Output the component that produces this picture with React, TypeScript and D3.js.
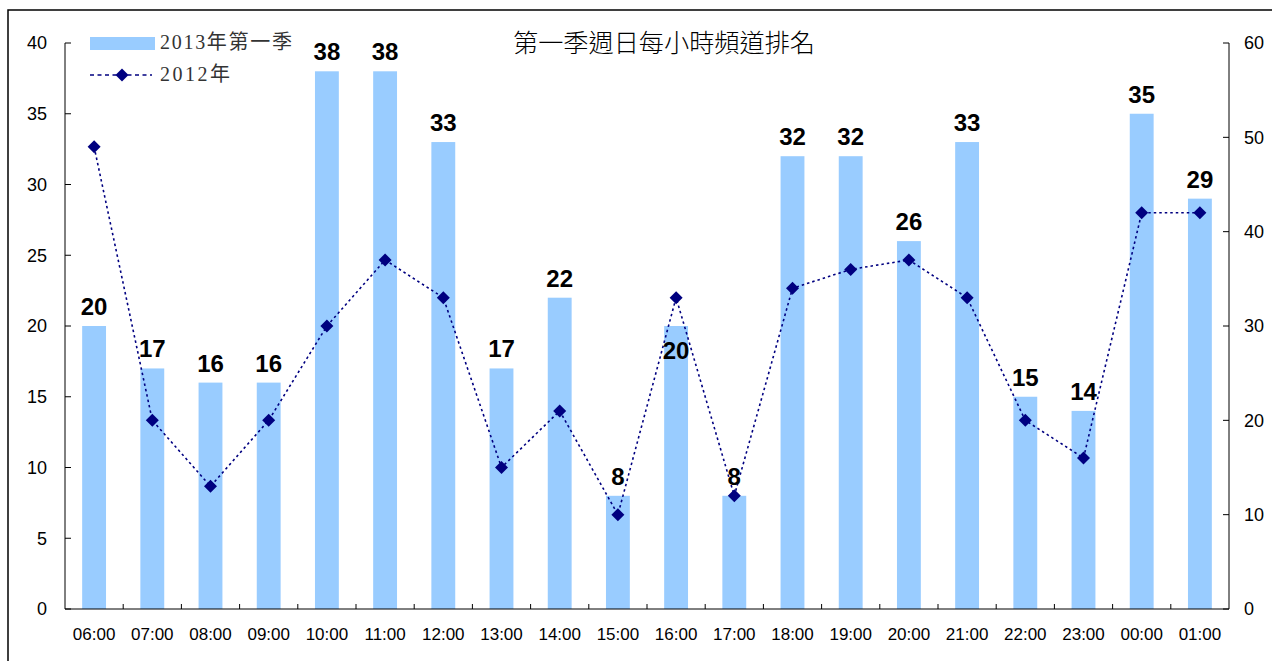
import React, { useEffect } from "react";
import * as d3 from "d3";

const categories = ["06:00","07:00","08:00","09:00","10:00","11:00","12:00","13:00","14:00","15:00","16:00","17:00","18:00","19:00","20:00","21:00","22:00","23:00","00:00","01:00"];
const bars2013 = [20,17,16,16,38,38,33,17,22,8,20,8,32,32,26,33,15,14,35,29];
const line2012 = [49,20,13,20,30,37,33,15,21,10,33,12,34,36,37,33,20,16,42,42];
const leftTicks = [0,5,10,15,20,25,30,35,40];
const rightTicks = [0,10,20,30,40,50,60];
const title = "第一季週日每小時頻道排名";
const seriesNames = ["2013年第一季", "2012年"];

const W = 1272, H = 661;
const plot = { left: 65, right: 1229, top: 43, bottom: 609 };

export default function App() {
  useEffect(() => {
    document.body.style.margin = "0";
    document.body.style.overflow = "hidden";
  }, []);

  const x = d3.scaleBand<string>().domain(categories).range([plot.left, plot.right]).paddingInner(0).paddingOuter(0);
  const yL = d3.scaleLinear().domain([0, 40]).range([plot.bottom, plot.top]);
  const yR = d3.scaleLinear().domain([0, 60]).range([plot.bottom, plot.top]);
  const bw = x.bandwidth() * 0.41;
  const cx = (c: string) => (x(c) as number) + x.bandwidth() / 2;

  const lineGen = d3.line<number>().x((_, i) => cx(categories[i])).y(d => yR(d));
  const diamond = (s: number) => `M0,${-s}L${s},0L0,${s}L${-s},0Z`;

  const sansFont = "Arial, 'Liberation Sans', sans-serif";
  const serifFont = "'Liberation Serif', 'Noto Sans CJK TC', serif";

  return (
    <svg width={W} height={H} style={{ display: "block", background: "#fff" }}>
      <rect x={8} y={10} width={W + 10} height={H + 10} fill="none" stroke="#000" strokeWidth={1.5} />
      {/* bars */}
      {bars2013.map((v, i) => (
        <rect key={"b" + i} x={cx(categories[i]) - bw / 2} y={yL(v)} width={bw} height={plot.bottom - yL(v)} fill="#99CCFF" />
      ))}
      {/* axes */}
      <line x1={plot.left} x2={plot.left} y1={plot.top} y2={plot.bottom} stroke="#000" strokeWidth={1} />
      <line x1={plot.right} x2={plot.right} y1={plot.top} y2={plot.bottom} stroke="#000" strokeWidth={1} />
      <line x1={plot.left} x2={plot.right} y1={plot.bottom} y2={plot.bottom} stroke="#000" strokeWidth={1} />
      {leftTicks.map(t => (
        <g key={"lt" + t}>
          <line x1={plot.left} x2={plot.left + 6} y1={yL(t)} y2={yL(t)} stroke="#000" />
          <text x={plot.left - 18} y={yL(t)} dy="0.35em" textAnchor="end" fontFamily={sansFont} fontSize={18} fill="#000">{t}</text>
        </g>
      ))}
      {rightTicks.map(t => (
        <g key={"rt" + t}>
          <line x1={plot.right - 6} x2={plot.right} y1={yR(t)} y2={yR(t)} stroke="#000" />
          <text x={plot.right + 15} y={yR(t)} dy="0.35em" textAnchor="start" fontFamily={sansFont} fontSize={18} fill="#000">{t}</text>
        </g>
      ))}
      {categories.map((c, i) => (
        <g key={"xt" + c}>
          {i > 0 && <line x1={x(c) as number} x2={x(c) as number} y1={plot.bottom} y2={plot.bottom - 5} stroke="#000" />}
          <text x={cx(c)} y={634} dy="0.35em" textAnchor="middle" fontFamily={sansFont} fontSize={17} fill="#000">{c}</text>
        </g>
      ))}
      {/* line */}
      <path d={lineGen(line2012) || ""} fill="none" stroke="#000080" strokeWidth={1.6} strokeDasharray="2.5,3" />
      {line2012.map((v, i) => (
        <path key={"m" + i} d={diamond(6.5)} transform={`translate(${cx(categories[i])},${yR(v)})`} fill="#000080" />
      ))}
      {/* data labels */}
      {bars2013.map((v, i) => {
        const top = yL(v);
        let base = top - 11;
        const my = yR(line2012[i]);
        if (my > base - 24 && my < base + 6) base = top + 33;
        return (
          <text key={"l" + i} x={cx(categories[i])} y={base} textAnchor="middle" fontFamily={sansFont} fontWeight="bold" fontSize={24} fill="#000">{v}</text>
        );
      })}
      {/* title */}
      <text x={513} y={52} textLength={302} lengthAdjust="spacingAndGlyphs" fontFamily="'Noto Sans CJK TC', sans-serif" fontWeight={300} fontSize={25} fill="#000">{title}</text>
      {/* legend */}
      <rect x={90} y={37} width={65} height={13} fill="#99CCFF" />
      <text x={160} y={49} textLength={132} lengthAdjust="spacing" fontFamily={serifFont} fontSize={20} fill="#333">{seriesNames[0]}</text>
      <line x1={90} x2={152} y1={75} y2={75} stroke="#000080" strokeWidth={1.6} strokeDasharray="4,3.5" />
      <path d={diamond(6.5)} transform="translate(122,75)" fill="#000080" />
      <text x={160} y={81} textLength={70} lengthAdjust="spacing" fontFamily={serifFont} fontSize={20} fill="#333">{seriesNames[1]}</text>
    </svg>
  );
}
